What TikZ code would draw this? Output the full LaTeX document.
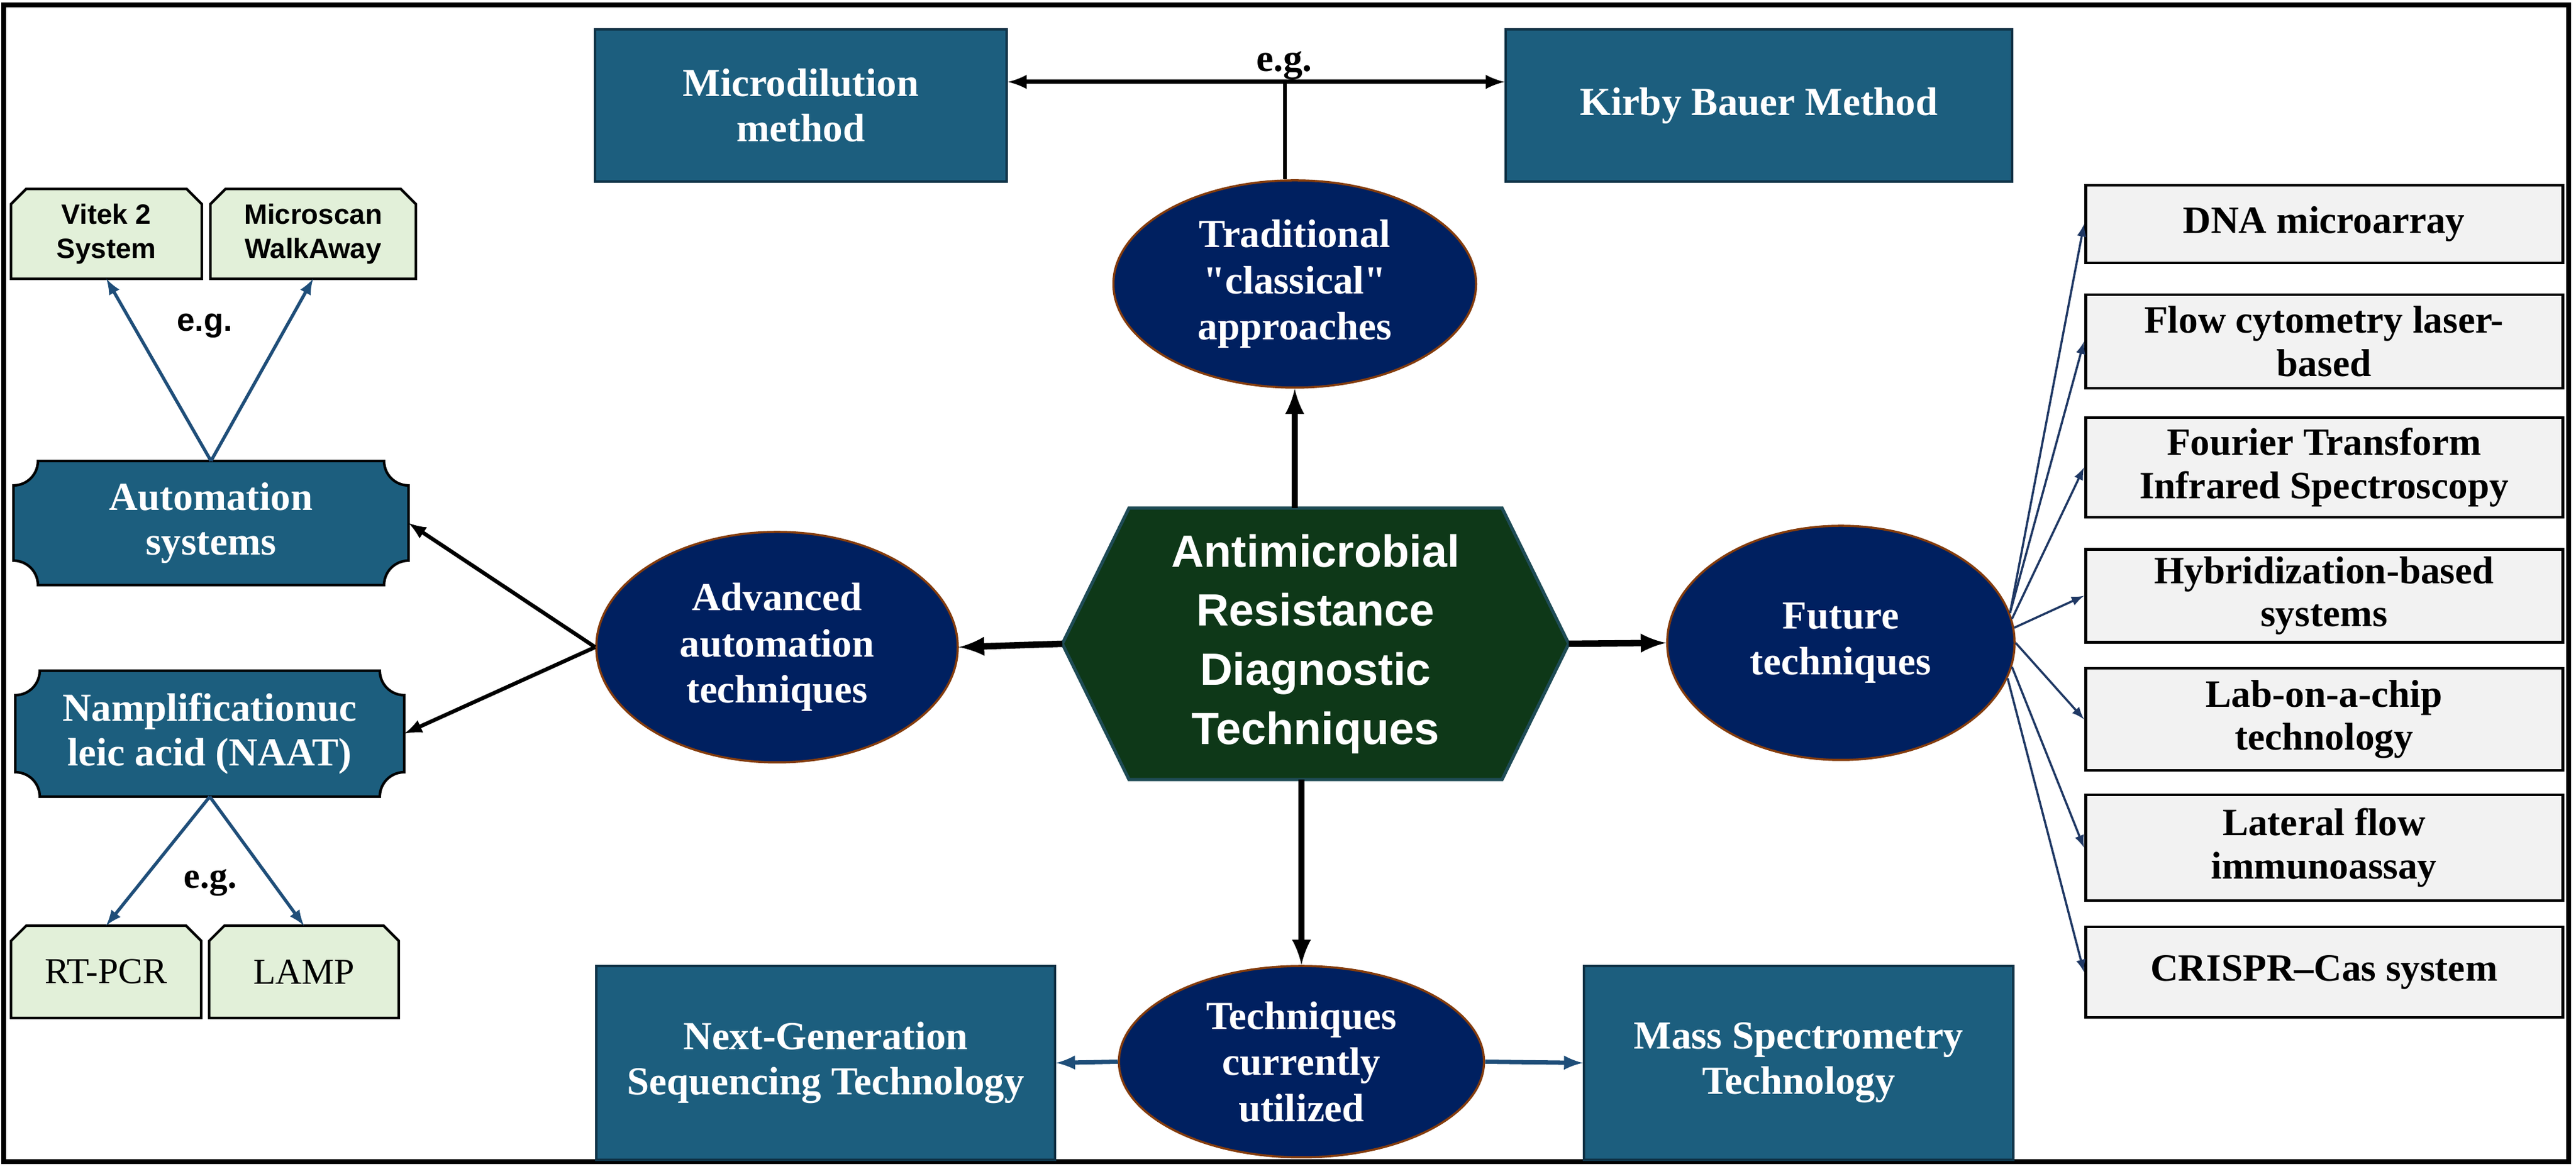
\documentclass[tikz,border=0pt]{standalone}
\usepackage{fontspec}
\setmainfont{Liberation Serif}[Ligatures=TeXOff]
\setsansfont{Liberation Sans}
\usetikzlibrary{calc, arrows.meta, positioning, shapes.geometric, backgrounds}

\definecolor{tealfill}{RGB}{28,94,126}
\definecolor{tealedge}{RGB}{14,50,70}
\definecolor{ovalfill}{RGB}{0,32,96}
\definecolor{ovaledge}{RGB}{132,60,12}
\definecolor{hexfill}{RGB}{14,56,24}
\definecolor{hexedge}{RGB}{30,75,85}
\definecolor{greenfill}{RGB}{226,240,217}
\definecolor{greyfill}{RGB}{242,242,242}
\definecolor{arrowblue}{RGB}{31,78,121}
\definecolor{arrownavy}{RGB}{31,56,100}

% outline with hollow corners, drawn round a node
\newcommand{\plaquepath}[2]{($(#1.north west)+(#2,0)$) -- ($(#1.north east)+(-#2,0)$) arc[start angle=180, end angle=270, radius=#2] -- ($(#1.south east)+(0,#2)$) arc[start angle=90, end angle=180, radius=#2] -- ($(#1.south west)+(#2,0)$) arc[start angle=0, end angle=90, radius=#2] -- ($(#1.north west)+(0,-#2)$) arc[start angle=270, end angle=360, radius=#2] -- cycle}
% outline with the two top corners cut off
\newcommand{\snippath}[2]{(#1.south west) -- ($(#1.north west)+(0,-#2)$) -- ($(#1.north west)+(#2,0)$) -- ($(#1.north east)+(-#2,0)$) -- ($(#1.north east)+(0,-#2)$) -- (#1.south east) -- cycle}

\begin{document}
\begin{tikzpicture}[auto, >=latex, node distance = 1 cm]
				\tikzstyle{tealbox} = [draw=tealedge, line width=1pt, fill=tealfill, text=white, font=\fontsize{18.5}{21}\selectfont\bfseries, align=center, minimum height=2.49cm]
				\tikzstyle{plaque} = [draw=none, outer sep=0pt, text=white, font=\fontsize{18.5}{21}\selectfont\bfseries, align=center]
				\tikzstyle{oval} = [ellipse, draw=ovaledge, line width=1pt, fill=ovalfill, text=white, inner sep=0pt, font=\fontsize{18.5}{21.5}\selectfont\bfseries, align=center]
				\tikzstyle{hexbox} = [draw=none, outer sep=0pt, text=white, minimum width=6.10cm, minimum height=4.44cm, font=\sffamily\bfseries\fontsize{21}{27.5}\selectfont, align=center]
				\tikzstyle{snipbox} = [draw=none, outer sep=0pt, minimum height=1.47cm, align=center]
				\tikzstyle{greybox} = [draw=black, line width=1.4pt, fill=greyfill, minimum width=7.8cm, align=center, font=\fontsize{18}{20}\selectfont\bfseries]
				\tikzstyle{mainarrow} = [->, line width=3pt]
				\tikzstyle{blackarrow} = [->, line width=1.8pt]
				\tikzstyle{bluearrow} = [->, draw=arrowblue, line width=1.5pt]
				\tikzstyle{thinarrow} = [->, draw=arrownavy, line width=1pt]
				
				\useasboundingbox (0,0) rectangle (42.12,19.12);
				\draw[line width=2.3pt] (0.06,0.12) rectangle (42.0,19.04);
				
				% centre
				\node[hexbox] 	at (21.51,8.59) 	(amr) 	{Antimicrobial\\Resistance\\Diagnostic\\Techniques};
				\coordinate (amrW) at ($(amr.west)+(-1.09,0)$);
				\coordinate (amrE) at ($(amr.east)+(1.09,0)$);
				
				\node[oval, minimum width=5.93cm, minimum height=3.39cm] 	at (21.17,14.475) 	(trad) 	{Traditional\\"classical"\\approaches};
				\node[oval, minimum width=5.91cm, minimum height=3.77cm] 	at (12.705,8.535) 	(adv) 	{Advanced\\automation\\techniques};
				\node[oval, minimum width=5.68cm, minimum height=3.83cm] 	at (30.10,8.605) 	(fut) 	{Future\\techniques};
				\node[oval, minimum width=5.97cm, minimum height=3.13cm] 	at (21.28,1.755) 	(cur) 	{Techniques\\currently\\utilized};
				
				\node[tealbox, minimum width=6.73cm] 	at (13.095,17.395) 	(micro) 	{Microdilution\\method};
				\node[tealbox, minimum width=8.28cm] 	at (28.76,17.395) 	(kirby) 	{Kirby Bauer Method};
				\node[tealbox, minimum width=7.50cm, minimum height=3.17cm] 	at (13.50,1.735) 	(ngs) 	{Next-Generation\\Sequencing Technology};
				\node[tealbox, minimum width=7.02cm, minimum height=3.17cm] 	at (29.41,1.735) 	(mass) 	{Mass Spectrometry\\Technology};
				
				% left side
				\node[plaque, minimum width=6.46cm, minimum height=2.03cm] 	at (3.45,10.565) 	(auto) 	{Automation\\systems};
				\node[plaque, minimum width=6.36cm, minimum height=2.06cm] 	at (3.43,7.12) 	(naat) 	{Namplificationuc\\leic acid (NAAT)};
				\node[snipbox, minimum width=3.12cm, font=\sffamily\bfseries\fontsize{13}{16}\selectfont] 	at (1.74,15.295) 	(vitek) 	{Vitek 2\\System};
				\node[snipbox, minimum width=3.36cm, font=\sffamily\bfseries\fontsize{13}{16}\selectfont] 	at (5.12,15.295) 	(mscan) 	{Microscan\\WalkAway};
				\node[snipbox, minimum width=3.11cm, minimum height=1.51cm, font=\fontsize{17}{20}\selectfont] 	at (1.735,3.225) 	(rtpcr) 	{RT-PCR};
				\node[snipbox, minimum width=3.10cm, minimum height=1.51cm, font=\fontsize{17}{20}\selectfont] 	at (4.97,3.225) 	(lamp) 	{LAMP};
				
				% right side
				\foreach \n/\y/\h/\t in {dna/15.455/1.27/{DNA microarray}, flow/13.535/1.53/{Flow cytometry laser-\\based}, four/11.475/1.63/{Fourier Transform\\Infrared Spectroscopy}, hyb/9.375/1.51/{Hybridization-based\\systems}, lab/7.355/1.67/{Lab-on-a-chip\\technology}, lat/5.255/1.73/{Lateral flow\\immunoassay}, cri/3.22/1.48/{CRISPR–Cas system}}
					\node[greybox, minimum height=\h cm] at (38.0,\y) (\n) {\t};
				
				\begin{scope}[on background layer]
					\filldraw[fill=hexfill, draw=hexedge, line width=1.5pt] (amr.north west) -- (amr.north east) -- (amrE) -- (amr.south east) -- (amr.south west) -- (amrW) -- cycle;
					\foreach \b in {auto, naat}
						\filldraw[fill=tealfill, draw=black, line width=1.2pt] \plaquepath{\b}{0.4};
					\foreach \b in {vitek, mscan, rtpcr, lamp}
						\filldraw[fill=greenfill, draw=black, line width=1.2pt] \snippath{\b}{0.25};
				\end{scope}
				
				% connectors
				\draw[mainarrow] (trad.south |- amr.north) -- (trad.south);
				\draw[mainarrow] (cur.north |- amr.south) -- (cur.north);
				\draw[mainarrow] (amrW) -- (adv.east);
				\draw[mainarrow] (amrE) -- (fut.west);
				
				\coordinate (egjoin) at (21.01,17.78);
				\draw[<->, line width=2pt] (micro.east |- egjoin) -- (kirby.west |- egjoin);
				\draw[line width=1.5pt] (egjoin |- trad.north) -- (egjoin);
				\node[font=\fontsize{18}{20}\selectfont\bfseries] 	at (21.0,18.05) 	(eg1) 	{e.g.};
				
				\draw[blackarrow] (adv.west) -- (auto.east);
				\draw[blackarrow] (adv.west) -- (naat.east);
				\draw[bluearrow] (auto.north) -- (vitek.south);
				\draw[bluearrow] (auto.north) -- (mscan.south);
				\node[font=\sffamily\bfseries\fontsize{15}{18}\selectfont] 	at (3.35,13.79) 	(eg2) 	{e.g.};
				\draw[bluearrow] (naat.south) -- (rtpcr.north);
				\draw[bluearrow] (naat.south) -- (lamp.north);
				\node[font=\fontsize{17}{20}\selectfont\bfseries] 	at (3.44,4.68) 	(eg3) 	{e.g.};
				
				\draw[bluearrow, line width=2pt] (cur.west) -- (ngs.east);
				\draw[bluearrow, line width=2pt] (cur.east) -- (mass.west);
				
				\foreach \n/\a in {dna/10, flow/10, four/8, hyb/5, lab/0, lat/-8, cri/-12}
					\draw[thinarrow] (fut.\a) -- (\n.west);
				\end{tikzpicture}
\end{document}
